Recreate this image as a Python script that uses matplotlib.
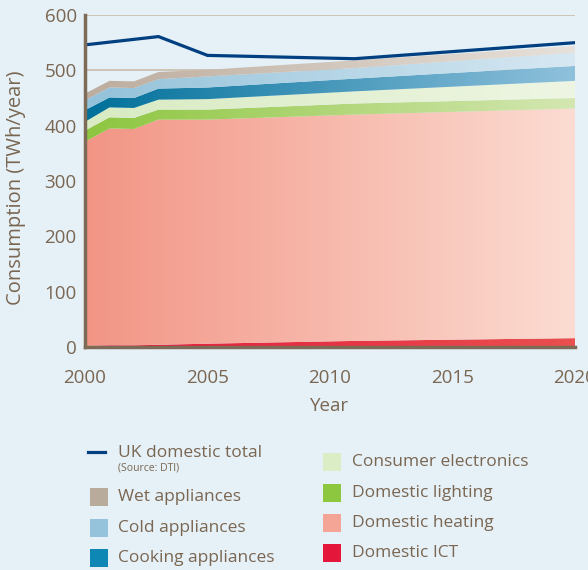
import numpy as np
import matplotlib.pyplot as plt
from matplotlib.colors import LinearSegmentedColormap
from matplotlib.patches import PathPatch, Rectangle
from matplotlib.lines import Line2D

plt.rcParams['font.family'] = ['Open Sans', 'DejaVu Sans']

# years where the curves bend
years = [2000, 2001, 2002, 2003, 2005, 2011, 2020]

# layer thicknesses, TWh/year (bottom to top)
ict = [2, 3, 3, 4, 6, 11, 16]
heating = [369, 392, 391, 407, 405, 409, 415]
lighting = [20, 20, 20, 18, 18, 20, 19]
electronics = [16, 18, 18, 18, 19, 22, 31]
cooking = [21, 18, 18, 20, 21, 23, 27]
cold = [18, 18, 18, 17, 20, 19, 24]
wet = [12, 12, 12, 13, 12, 14, 12]

# UK domestic total (Source: DTI)
total_years = [2000, 2003, 2005, 2011, 2020]
total = [546, 561, 527, 521, 550]

layers = [
    ('Domestic ICT', ict, '#e4173a', '#e9504f'),
    ('Domestic heating', heating, '#f29585', '#fcdcd2'),
    ('Domestic lighting', lighting, '#8dc63f', '#d4e7b2'),
    ('Consumer electronics', electronics, '#d8ebc2', '#eef6e3'),
    ('Cooking appliances', cooking, '#00709a', '#8fc1dc'),
    ('Cold appliances', cold, '#93c2da', '#d7e8f2'),
    ('Wet appliances', wet, '#bcad9e', '#e7e1db'),
]

bg = '#e5f0f7'
txt = '#7a6651'

fig = plt.figure(figsize=(5.88, 5.70), dpi=100, facecolor=bg)
ax = fig.add_axes([85/588, 1-347/570, 490/588, 332/570])
ax.set_facecolor(bg)

x = np.array(years, dtype=float)
base = np.zeros(len(years))
grad = np.linspace(0, 1, 256).reshape(1, -1)
for name, vals, c1, c2 in layers:
    top = base + np.array(vals)
    poly = ax.fill_between(x, base, top, facecolor='none', edgecolor='none')
    patch = PathPatch(poly.get_paths()[0], facecolor='none', edgecolor='none',
                      transform=ax.transData)
    ax.add_patch(patch)
    cmap = LinearSegmentedColormap.from_list(name, [c1, c2])
    im = ax.imshow(grad, extent=[2000, 2020, 0, 600], aspect='auto',
                   cmap=cmap, zorder=2, interpolation='bilinear')
    im.set_clip_path(patch)
    base = top

ax.plot(total_years, total, color='#003f80', lw=2.3, zorder=4,
        solid_joinstyle='miter')

ax.set_xlim(2000, 2020)
ax.set_ylim(0, 600)
ax.set_xticks([2000, 2005, 2010, 2015, 2020])
ax.set_yticks(range(0, 601, 100))
ax.yaxis.grid(True, color='#cbbda9', lw=1.2, zorder=0)
ax.set_axisbelow(True)
ax.tick_params(length=0, labelsize=13.5, colors=txt)
ax.tick_params(axis='y', pad=6)
ax.tick_params(axis='x', pad=16)
for s in ['top', 'right']:
    ax.spines[s].set_visible(False)
for s in ['left', 'bottom']:
    ax.spines[s].set_color('#7d6b57')
    ax.spines[s].set_linewidth(2.5)
    ax.spines[s].set_zorder(5)
ax.set_xlabel('Year', fontsize=13.5, color=txt, labelpad=7)
ax.set_ylabel('Consumption (TWh/year)', fontsize=14.5, color=txt)
ax.yaxis.set_label_coords(-0.12, 0.479)

# legend drawn by hand
W, H = 588, 570
def fy(p):
    return 1 - p / H

fig.add_artist(Line2D([88/W, 105/W], [fy(452), fy(452)], color='#003f80', lw=2.3))
fig.text(118/W, fy(453), 'UK domestic total', fontsize=12.5, color=txt, va='center')
fig.text(118/W, fy(468), '(Source: DTI)', fontsize=7.5, color=txt, va='center')

left_items = [('Wet appliances', '#b9ab9c', 497), ('Cold appliances', '#95c3dc', 528),
              ('Cooking appliances', '#0e87b4', 558)]
right_items = [('Consumer electronics', '#dbedc4', 462), ('Domestic lighting', '#8dc63f', 493),
               ('Domestic heating', '#f5a596', 523), ('Domestic ICT', '#e4173a', 553)]
for items, xs, xt in [(left_items, 90, 118), (right_items, 323, 352)]:
    for label, col, yc in items:
        fig.add_artist(Rectangle((xs/W, fy(yc + 9)), 18/W, 18/H, facecolor=col,
                                 edgecolor='none', transform=fig.transFigure))
        fig.text(xt/W, fy(yc), label, fontsize=12.5, color=txt, va='center')

fig.savefig('out.png', dpi=100, facecolor=bg)
